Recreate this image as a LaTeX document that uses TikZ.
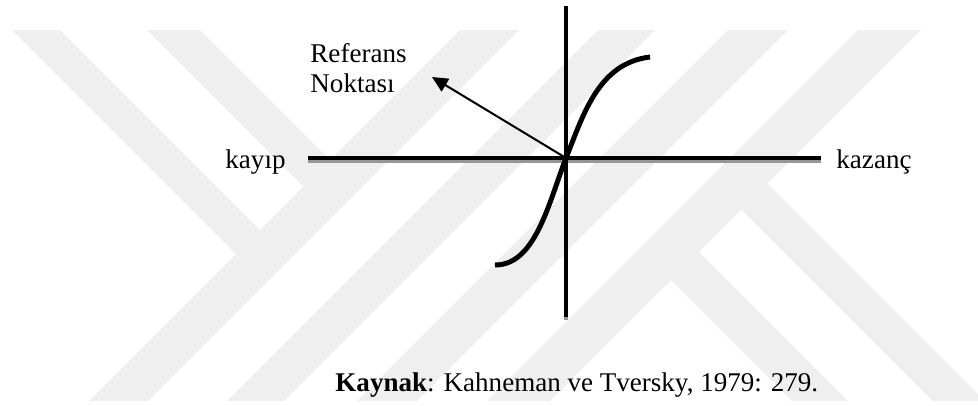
\documentclass[tikz,border=0pt]{standalone}
\usepackage{fontspec}
\setmainfont{Liberation Serif}
\usepackage{xcolor}
\usepackage{tikz}
\usetikzlibrary{arrows.meta,positioning}
\definecolor{zw}{RGB}{0,0,0}
\definecolor{wm}{RGB}{239,239,239}
\definecolor{sh}{RGB}{150,150,150}

\begin{document}
\begin{tikzpicture}[x=0.0156cm,y=-0.0156cm,
    axis/.style={line width=2.2pt,zw},
    axisshadow/.style={line width=2.2pt,sh},
    lbl/.style={font=\fontsize{12}{14}\selectfont,inner sep=0pt}]
  \useasboundingbox (0,0) rectangle (978,405);

  % watermark in the background
  \begin{scope}
    \clip (0,30) rectangle (978,400);
    \fill[wm] (490,0) -- (549,0) -- (129,420) -- (70,420) -- cycle;
    \fill[wm] (628,0) -- (685,0) -- (265,420) -- (208,420) -- cycle;
    \fill[wm] (758,0) -- (818,0) -- (398,420) -- (338,420) -- cycle;
    \fill[wm] (888,0) -- (951,0) -- (531,420) -- (468,420) -- cycle;
    \fill[wm] (-18,0) -- (30,0) -- (275,245) -- (251,269) -- cycle;
    \fill[wm] (117,0) -- (170,0) -- (345,175) -- (318.5,201.5) -- cycle;
    \fill[wm] (683.5,236.5) -- (1000,553) -- (1000,609) -- (655.5,264.5) -- cycle;
    \fill[wm] (752,168) -- (1000,416) -- (1000,468) -- (726,194) -- cycle;
  \end{scope}

  % axes
  \coordinate (O) at (566,158);
  \coordinate (xl) at (308,158);
  \coordinate (xr) at (821,158);
  \coordinate (yt) at (566,6);
  \coordinate (yb) at (566,317);
  \draw[axisshadow] ([yshift=-1.3pt]xl) -- ([yshift=-1.3pt]xr);
  \draw[axisshadow] ([yshift=-1.5pt]yt) -- ([yshift=-1.5pt]yb);
  \draw[axis] (xl) -- (xr);
  \draw[axis,line width=2pt] (yt) -- (yb);

  % value curve
  \draw[line width=2.2pt] (495,265) .. controls (535,265) and (548,205) .. (O)
    .. controls (583,116) and (598,63) .. (650,57);

  % labels
  \node[lbl,anchor=base west] (ref1) at (310,62) {Referans};
  \node[lbl,anchor=base west] (ref2) at (310,92) {Noktası};
  \node[lbl,anchor=base east] (kayip) at (286,168) {kayıp};
  \node[lbl,anchor=base west] (kazanc) at (836,168) {kazanç};
  \node[lbl,anchor=base west] (kaynak) at (335,391) {\textbf{Kaynak}: Kahneman ve Tversky, 1979: 279.};

  % pointer to reference point
  \coordinate (tip) at (432,77);
  \draw[line width=0.9pt,-{Triangle[length=7pt,width=6.5pt]}] (O) -- (tip);
\end{tikzpicture}
\end{document}
